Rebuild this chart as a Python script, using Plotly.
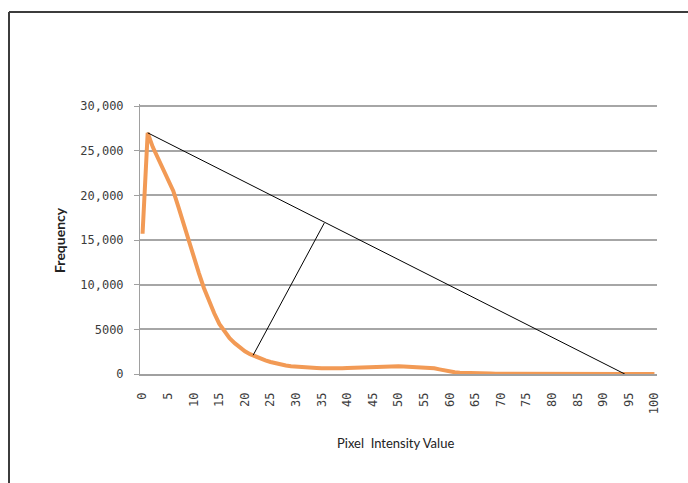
import plotly.graph_objects as go

# Data
intensity = list(range(0, 101))
frequency = [
    15700, 27000, 25400, 24200, 23000, 21800, 20500, 18700, 16800, 15000,
    13100, 11300, 9600, 8100, 6800, 5600, 4700, 4000, 3450, 2950,
    2550, 2220, 1950, 1720, 1520, 1340, 1180, 1050, 950, 870,
    810, 760, 720, 690, 660, 630, 610, 600, 610, 630,
    660, 690, 710, 730, 750, 780, 810, 840, 860, 870,
    860, 840, 820, 800, 780, 760, 720, 640, 520, 380,
    260, 190, 140, 110, 90, 75, 60, 50, 45, 40,
    35, 32, 30, 28, 26, 24, 22, 20, 18, 16,
    15, 14, 13, 12, 11, 10, 10, 9, 9, 8,
    8, 7, 7, 6, 6, 5, 5, 5, 4, 4, 4,
]
diag_x = [1, 94.2]
diag_y = [27000, 0]
perp_x = [21.6, 35.5]
perp_y = [2100, 16900]

x_tickvals = list(range(0, 101, 5))
y_tickvals = [0, 5000, 10000, 15000, 20000, 25000, 30000]
y_ticktext = ["0", "5000", "10,000", "15,000", "20,000", "25,000", "30,000"]

W, H = 688, 483
pw, ph = 517, 270
L, T = 140, 104
R, B = W - L - pw, H - T - ph
YMAX = 30000 * ph / 268.0

def px_x(p):
    return (p - L) / pw

def px_y(p):
    return (T + ph - p) / ph

fig = go.Figure()
fig.add_trace(go.Scatter(x=intensity, y=frequency, mode="lines",
                         line=dict(color="#F29A55", width=4), showlegend=False))
fig.add_trace(go.Scatter(x=diag_x, y=diag_y, mode="lines",
                         line=dict(color="#000000", width=1), showlegend=False))
fig.add_trace(go.Scatter(x=perp_x, y=perp_y, mode="lines",
                         line=dict(color="#000000", width=1), showlegend=False))

tickfont = dict(family="DejaVu Sans Mono", size=12, color="#3c3c3c")
fig.update_layout(
    width=W, height=H,
    margin=dict(l=L, r=R, t=T, b=B, pad=0),
    paper_bgcolor="white", plot_bgcolor="white",
    xaxis=dict(range=[-0.5, 100.5], tickvals=x_tickvals, tickangle=-90,
               showgrid=False, zeroline=False, showline=True, linecolor="#a0a0a0",
               linewidth=1.5, ticks="", tickfont=tickfont, ticklabelstandoff=12),
    yaxis=dict(range=[0, YMAX], tickvals=y_tickvals, ticktext=y_ticktext,
               showgrid=True, gridcolor="#a6a6a6", gridwidth=1.5, zeroline=False,
               showline=True, linecolor="#a0a0a0", linewidth=1,
               ticks="outside", ticklen=5, tickcolor="#a0a0a0",
               tickfont=tickfont, ticklabelstandoff=8),
    shapes=[
        dict(type="line", xref="paper", yref="paper",
             x0=px_x(9), x1=2.0, y0=px_y(12), y1=px_y(12),
             line=dict(color="#3c3c3c", width=2)),
        dict(type="line", xref="paper", yref="paper",
             x0=px_x(9), x1=px_x(9), y0=px_y(12), y1=-2.0,
             line=dict(color="#3c3c3c", width=2)),
    ],
    annotations=[
        dict(text="<b>Frequency</b>", xref="paper", yref="paper",
             x=px_x(59), y=px_y(240), textangle=-90, showarrow=False,
             font=dict(family="Lato", size=14, color="#222222"),
             xanchor="center", yanchor="middle"),
        dict(text="Pixel\u00a0 Intensity Value", xref="paper", yref="paper",
             x=px_x(395), y=px_y(443), showarrow=False,
             font=dict(family="Lato", size=13, color="#222222"),
             xanchor="center", yanchor="middle"),
    ],
)

fig.write_html("out.html",
               config={"displayModeBar": False},
               post_script="document.body.style.margin='0';"
                           "document.documentElement.style.overflow='hidden';"
                           "document.body.style.overflow='hidden';")
